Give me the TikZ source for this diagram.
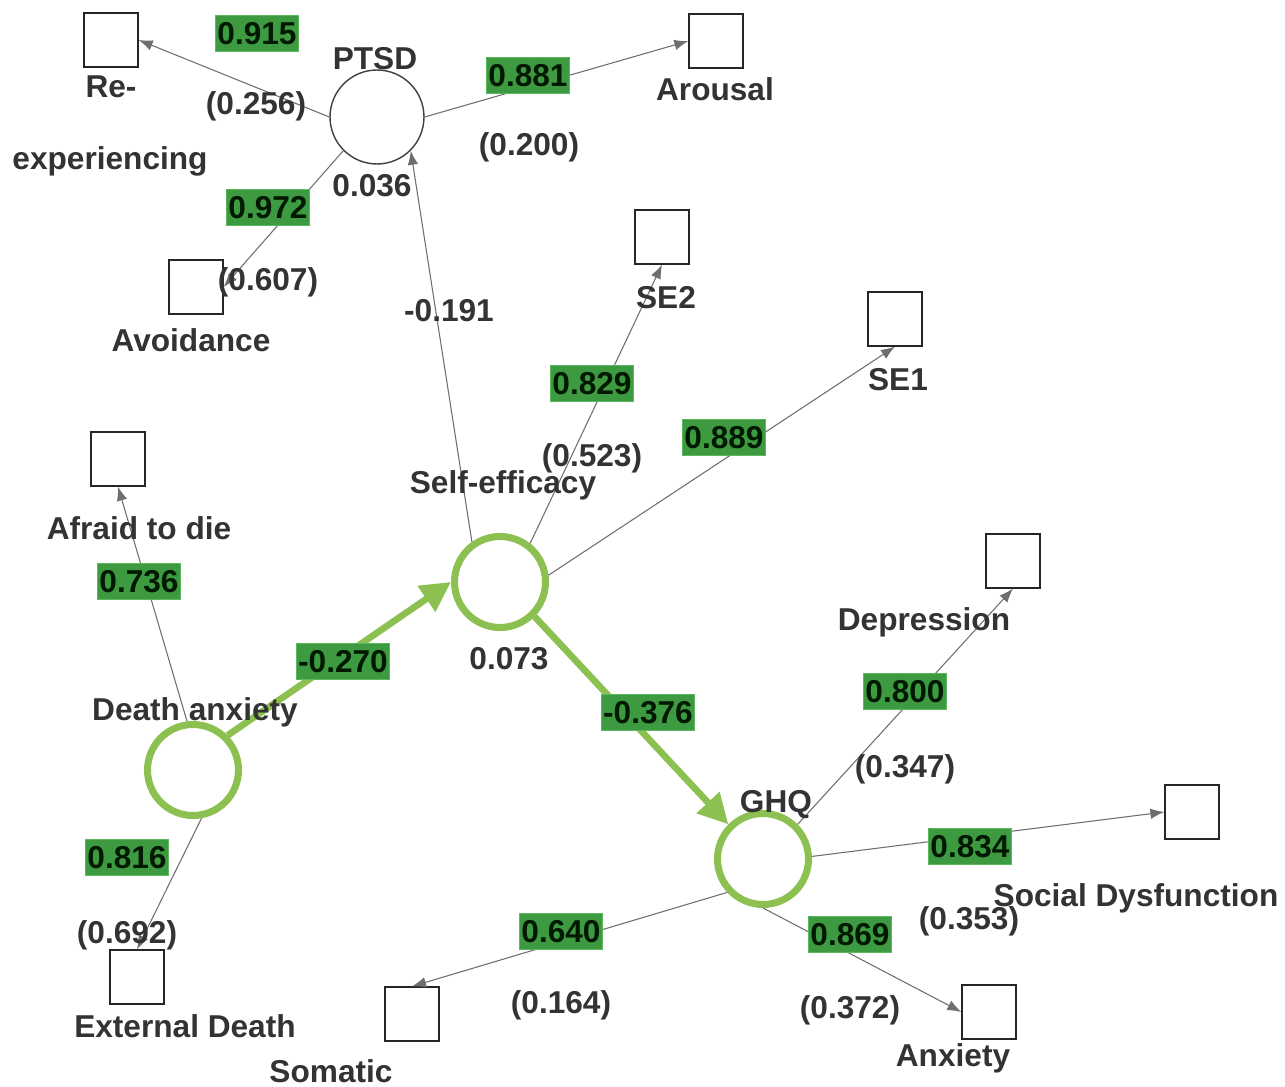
\documentclass[tikz,border=0pt]{standalone}
\usepackage{fontspec}
\setmainfont{Liberation Sans}
\usetikzlibrary{arrows.meta}
\definecolor{txt}{HTML}{333333}
\definecolor{boxg}{HTML}{3E9A41}
\definecolor{boxedge}{HTML}{5CB85C}
\definecolor{lineg}{HTML}{8CC152}
\definecolor{arr}{HTML}{6E6E6E}
\begin{document}
\begin{tikzpicture}[x=0.02cm,y=-0.02cm,
  ind/.style={draw=black!85, line width=0.7pt, minimum size=1.08cm, inner sep=0pt, fill=white},
  lat/.style={circle, draw=black!75, line width=0.8pt, minimum size=1.88cm, inner sep=0pt, fill=white},
  glat/.style={circle, draw=lineg, line width=4pt, minimum size=1.82cm, inner sep=0pt, fill=white},
  lbl/.style={font=\bfseries\fontsize{18}{20}\selectfont, text=txt, inner sep=0pt, anchor=base},
  gbox/.style={fill=boxg, draw=boxedge, line width=0.4pt, text=black!90!green,
     font=\bfseries\fontsize{18}{20}\selectfont, inner xsep=1pt, inner ysep=0pt,
     text height=16.5pt, text depth=3.9pt},
  ld/.style={draw=arr, line width=0.6pt, -{Latex[length=8pt,width=6pt]}},
  gd/.style={draw=lineg, line width=3.8pt, -{Triangle[length=17pt,width=17pt]}}
]
\useasboundingbox (0,0) rectangle (1285,1087);
\fill[white] (0,0) rectangle (1285,1087);

% indicator squares
\node[ind] (re)  at (111,40)  {};
\node[ind] (aro) at (716,41)  {};
\node[ind] (avo) at (196,287) {};
\node[ind] (se2) at (662,237) {};
\node[ind] (se1) at (895,319) {};
\node[ind] (afr) at (118,459) {};
\node[ind] (dep) at (1013,561){};
\node[ind] (soc) at (1192,812){};
\node[ind] (ext) at (137,977) {};
\node[ind] (som) at (412,1014){};
\node[ind] (anx) at (989,1012){};

% latent variables
\node[lat]  (ptsd) at (377,117) {};
\node[glat] (se)   at (500,582) {};
\node[glat] (da)   at (193,770) {};
\node[glat] (ghq)  at (763,859) {};

% connectors
\draw[ld] (ptsd.west) -- (re.east);
\draw[ld] (ptsd.east) -- (aro.west);
\draw[ld] (ptsd.225) -- (avo.east);
\draw[ld] (se.125) -- (ptsd.-45);
\draw[ld] (se.52) -- (se2.south);
\draw[ld] (se.8) -- (se1.south);
\draw[ld] (da.97) -- (afr.south);
\draw[ld] (da.-80) -- (ext.north);
\draw[ld] (ghq.45) -- (dep.south);
\draw[ld] (ghq.3) -- (soc.west);
\draw[ld] (ghq.223) -- (som.north);
\draw[ld] (ghq.-90) -- (anx.west);
\draw[gd] (da.45) -- (se.west);
\draw[gd] (se.-45) -- (ghq.135);

% labels
\node[lbl] (lptsd) at (375,70)  {PTSD};
\node[lbl] (lre1)  at (111,98)  {Re-};
\node[lbl] (lre2)  at (110,170) {experiencing};
\node[lbl] (laro)  at (715,101) {Arousal};
\node[lbl] (lavo)  at (191,352) {Avoidance};
\node[lbl] (lse2)  at (666,309) {SE2};
\node[lbl] (lse1)  at (898,391) {SE1};
\node[lbl] (lse)   at (503,494) {Self-efficacy};
\node[lbl] (lafr)  at (139,540) {Afraid to die};
\node[lbl] (lda)   at (195,720) {Death anxiety};
\node[lbl] (ldep)  at (924,631) {Depression};
\node[lbl] (lghq)  at (776,812) {GHQ};
\node[lbl] (lsoc)  at (1136,906){Social Dysfunction};
\node[lbl] (lext)  at (185,1037){External Death};
\node[lbl] (lsom)  at (331,1082){Somatic};
\node[lbl] (lanx)  at (953,1066){Anxiety};

% R squared / residuals
\node[lbl] (r1) at (372,197)  {0.036};
\node[lbl] (r2) at (509,669)  {0.073};
\node[lbl] (v1) at (256,115)  {(0.256)};
\node[lbl] (v2) at (529,156)  {(0.200)};
\node[lbl] (v3) at (268,291)  {(0.607)};
\node[lbl] (v4) at (449,322)  {-0.191};
\node[lbl] (v5) at (592,467)  {(0.523)};
\node[lbl] (v6) at (905,777)  {(0.347)};
\node[lbl] (v7) at (969,929)  {(0.353)};
\node[lbl] (v8) at (850,1018) {(0.372)};
\node[lbl] (v9) at (561,1013) {(0.164)};
\node[lbl] (v10) at (127,943) {(0.692)};

% loadings / path coefficients
\node[gbox] (b1)  at (257,33)  {0.915};
\node[gbox] (b2)  at (528,75)  {0.881};
\node[gbox] (b3)  at (268,207) {0.972};
\node[gbox] (b4)  at (592,383) {0.829};
\node[gbox] (b5)  at (724,437) {0.889};
\node[gbox] (b6)  at (139,581) {0.736};
\node[gbox] (b7)  at (343,661) {-0.270};
\node[gbox] (b8)  at (648,712) {-0.376};
\node[gbox] (b9)  at (905,691) {0.800};
\node[gbox] (b10) at (970,846) {0.834};
\node[gbox] (b11) at (127,857) {0.816};
\node[gbox] (b12) at (561,931) {0.640};
\node[gbox] (b13) at (850,934) {0.869};
\end{tikzpicture}
\end{document}
